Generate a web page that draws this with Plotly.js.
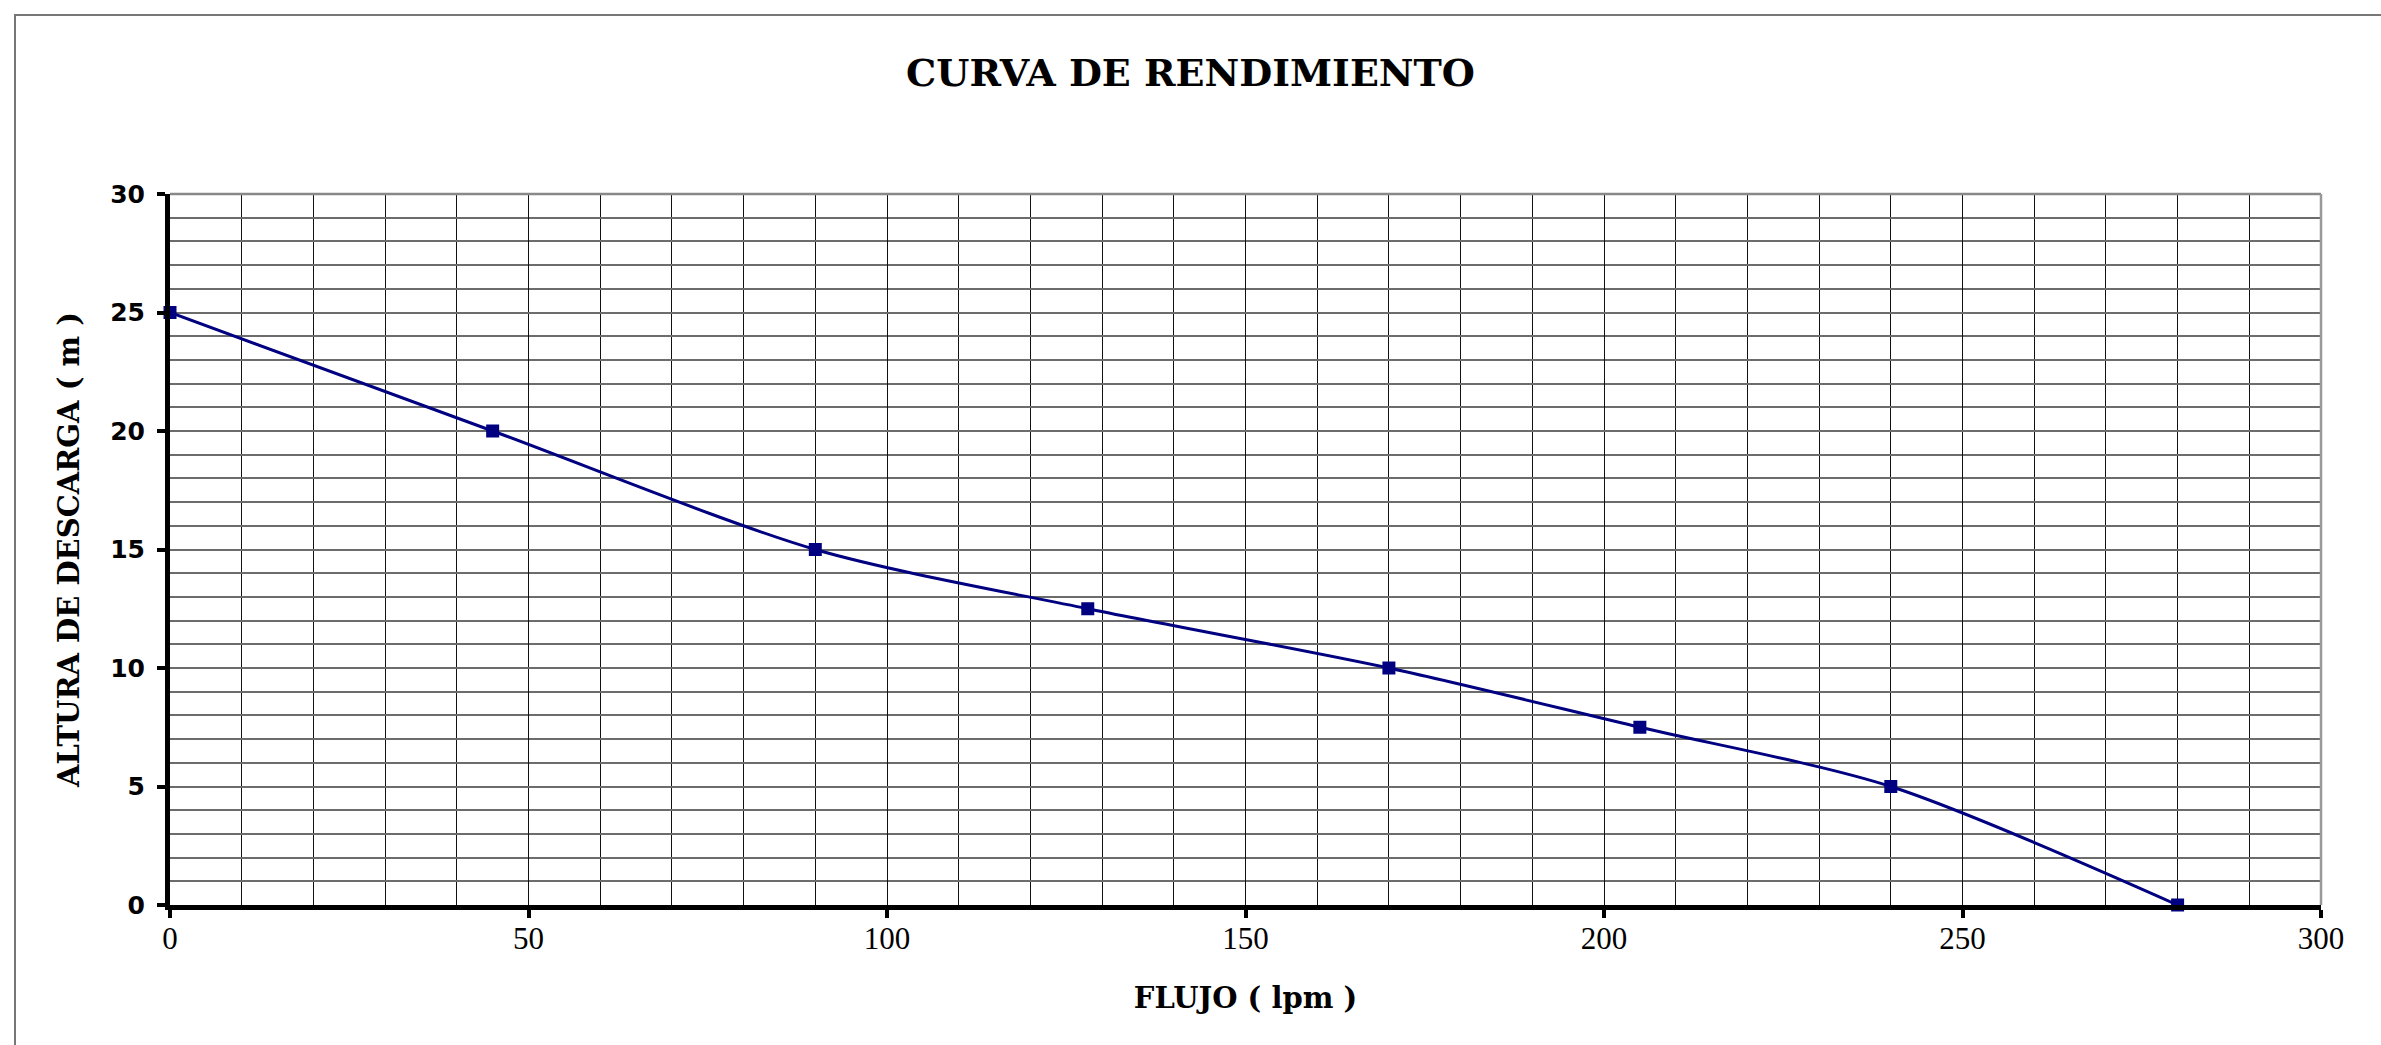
<!DOCTYPE html>
<html>
<head>
<meta charset="utf-8">
<script src="https://cdn.plot.ly/plotly-3.0.1.min.js"></script>
<style>
  html, body { margin: 0; padding: 0; background: #fff; }
  #chart { width: 2381px; height: 1045px; }
</style>
</head>
<body>
<div id="chart"></div>
<script>
// Data
const flujo = [0, 45, 90, 128, 170, 205, 240, 280];        // FLUJO (lpm)
const altura = [25, 20, 15, 12.5, 10, 7.5, 5, 0];          // ALTURA DE DESCARGA (m)
const xTickVals = [0, 50, 100, 150, 200, 250, 300];
const yTickVals = [0, 5, 10, 15, 20, 25, 30];

const titleText = 'CURVA DE RENDIMIENTO';
const xTitleText = 'FLUJO ( lpm )';
const yTitleText = 'ALTURA DE DESCARGA ( m )';

const navy = '#000080';

const trace = {
  x: flujo,
  y: altura,
  type: 'scatter',
  mode: 'lines+markers',
  line: { color: navy, width: 3, shape: 'spline', smoothing: 0.8 },
  marker: { symbol: 'square', color: navy, size: 13, line: { width: 0 } },
  cliponaxis: false,
  hoverinfo: 'x+y'
};

const vGrid = '#111111';
const hGrid = '#6c6c6c';

const layout = {
  width: 2381,
  height: 1045,
  margin: { l: 170, r: 60, t: 194, b: 140 },
  paper_bgcolor: '#ffffff',
  plot_bgcolor: '#ffffff',
  showlegend: false,
  title: {
    text: titleText,
    font: { family: 'DejaVu Serif', size: 38, color: '#000', weight: 'bold' },
    x: 0.5, xref: 'container', xanchor: 'center',
    y: 1 - 73 / 1045, yref: 'container', yanchor: 'middle'
  },
  xaxis: {
    range: [0, 300],
    tickmode: 'array',
    tickvals: xTickVals,
    ticks: 'outside', ticklen: 8, tickwidth: 4, tickcolor: '#000',
    ticklabelstandoff: -6,
    tickfont: { family: 'Liberation Serif', size: 31, color: '#000' },
    showline: true, linecolor: '#000', linewidth: 5,
    showgrid: true, gridcolor: vGrid, gridwidth: 1,
    minor: { dtick: 10, tick0: 0, showgrid: true, gridcolor: vGrid, gridwidth: 1, ticks: '' },
    zeroline: false,
    fixedrange: true,
    title: {
      text: xTitleText,
      font: { family: 'DejaVu Serif', size: 29, color: '#000', weight: 'bold' },
      standoff: 34
    }
  },
  yaxis: {
    range: [0, 30],
    tickmode: 'array',
    tickvals: yTickVals,
    ticks: 'outside', ticklen: 8, tickwidth: 4, tickcolor: '#000',
    ticklabelstandoff: 7,
    tickfont: { family: 'DejaVu Sans', size: 25, color: '#000', weight: 'bold' },
    showline: true, linecolor: '#000', linewidth: 5,
    showgrid: true, gridcolor: hGrid, gridwidth: 2,
    minor: { dtick: 1, tick0: 0, showgrid: true, gridcolor: hGrid, gridwidth: 2, ticks: '' },
    zeroline: false,
    fixedrange: true,
    title: {
      text: yTitleText,
      font: { family: 'DejaVu Serif', size: 29, color: '#000', weight: 'bold' },
      standoff: 24
    }
  },
  shapes: [
    // outer chart border (left and top visible; continues beyond the frame)
    { type: 'rect', xref: 'paper', yref: 'paper',
      x0: (15 - 170) / 2151, x1: 1.2, y0: -0.5, y1: (905 - 15) / 711,
      line: { color: '#777', width: 2 }, fillcolor: 'rgba(0,0,0,0)', layer: 'below' },
    // plot area top and right borders
    { type: 'line', xref: 'paper', yref: 'paper', x0: 0, x1: 1, y0: 1, y1: 1,
      line: { color: '#888', width: 2.5 }, layer: 'above' },
    { type: 'line', xref: 'paper', yref: 'paper', x0: 1, x1: 1, y0: 0, y1: 1,
      line: { color: '#999', width: 2.5 }, layer: 'above' }
  ]
};

Plotly.newPlot('chart', [trace], layout, { displayModeBar: false, staticPlot: true });
</script>
</body>
</html>
